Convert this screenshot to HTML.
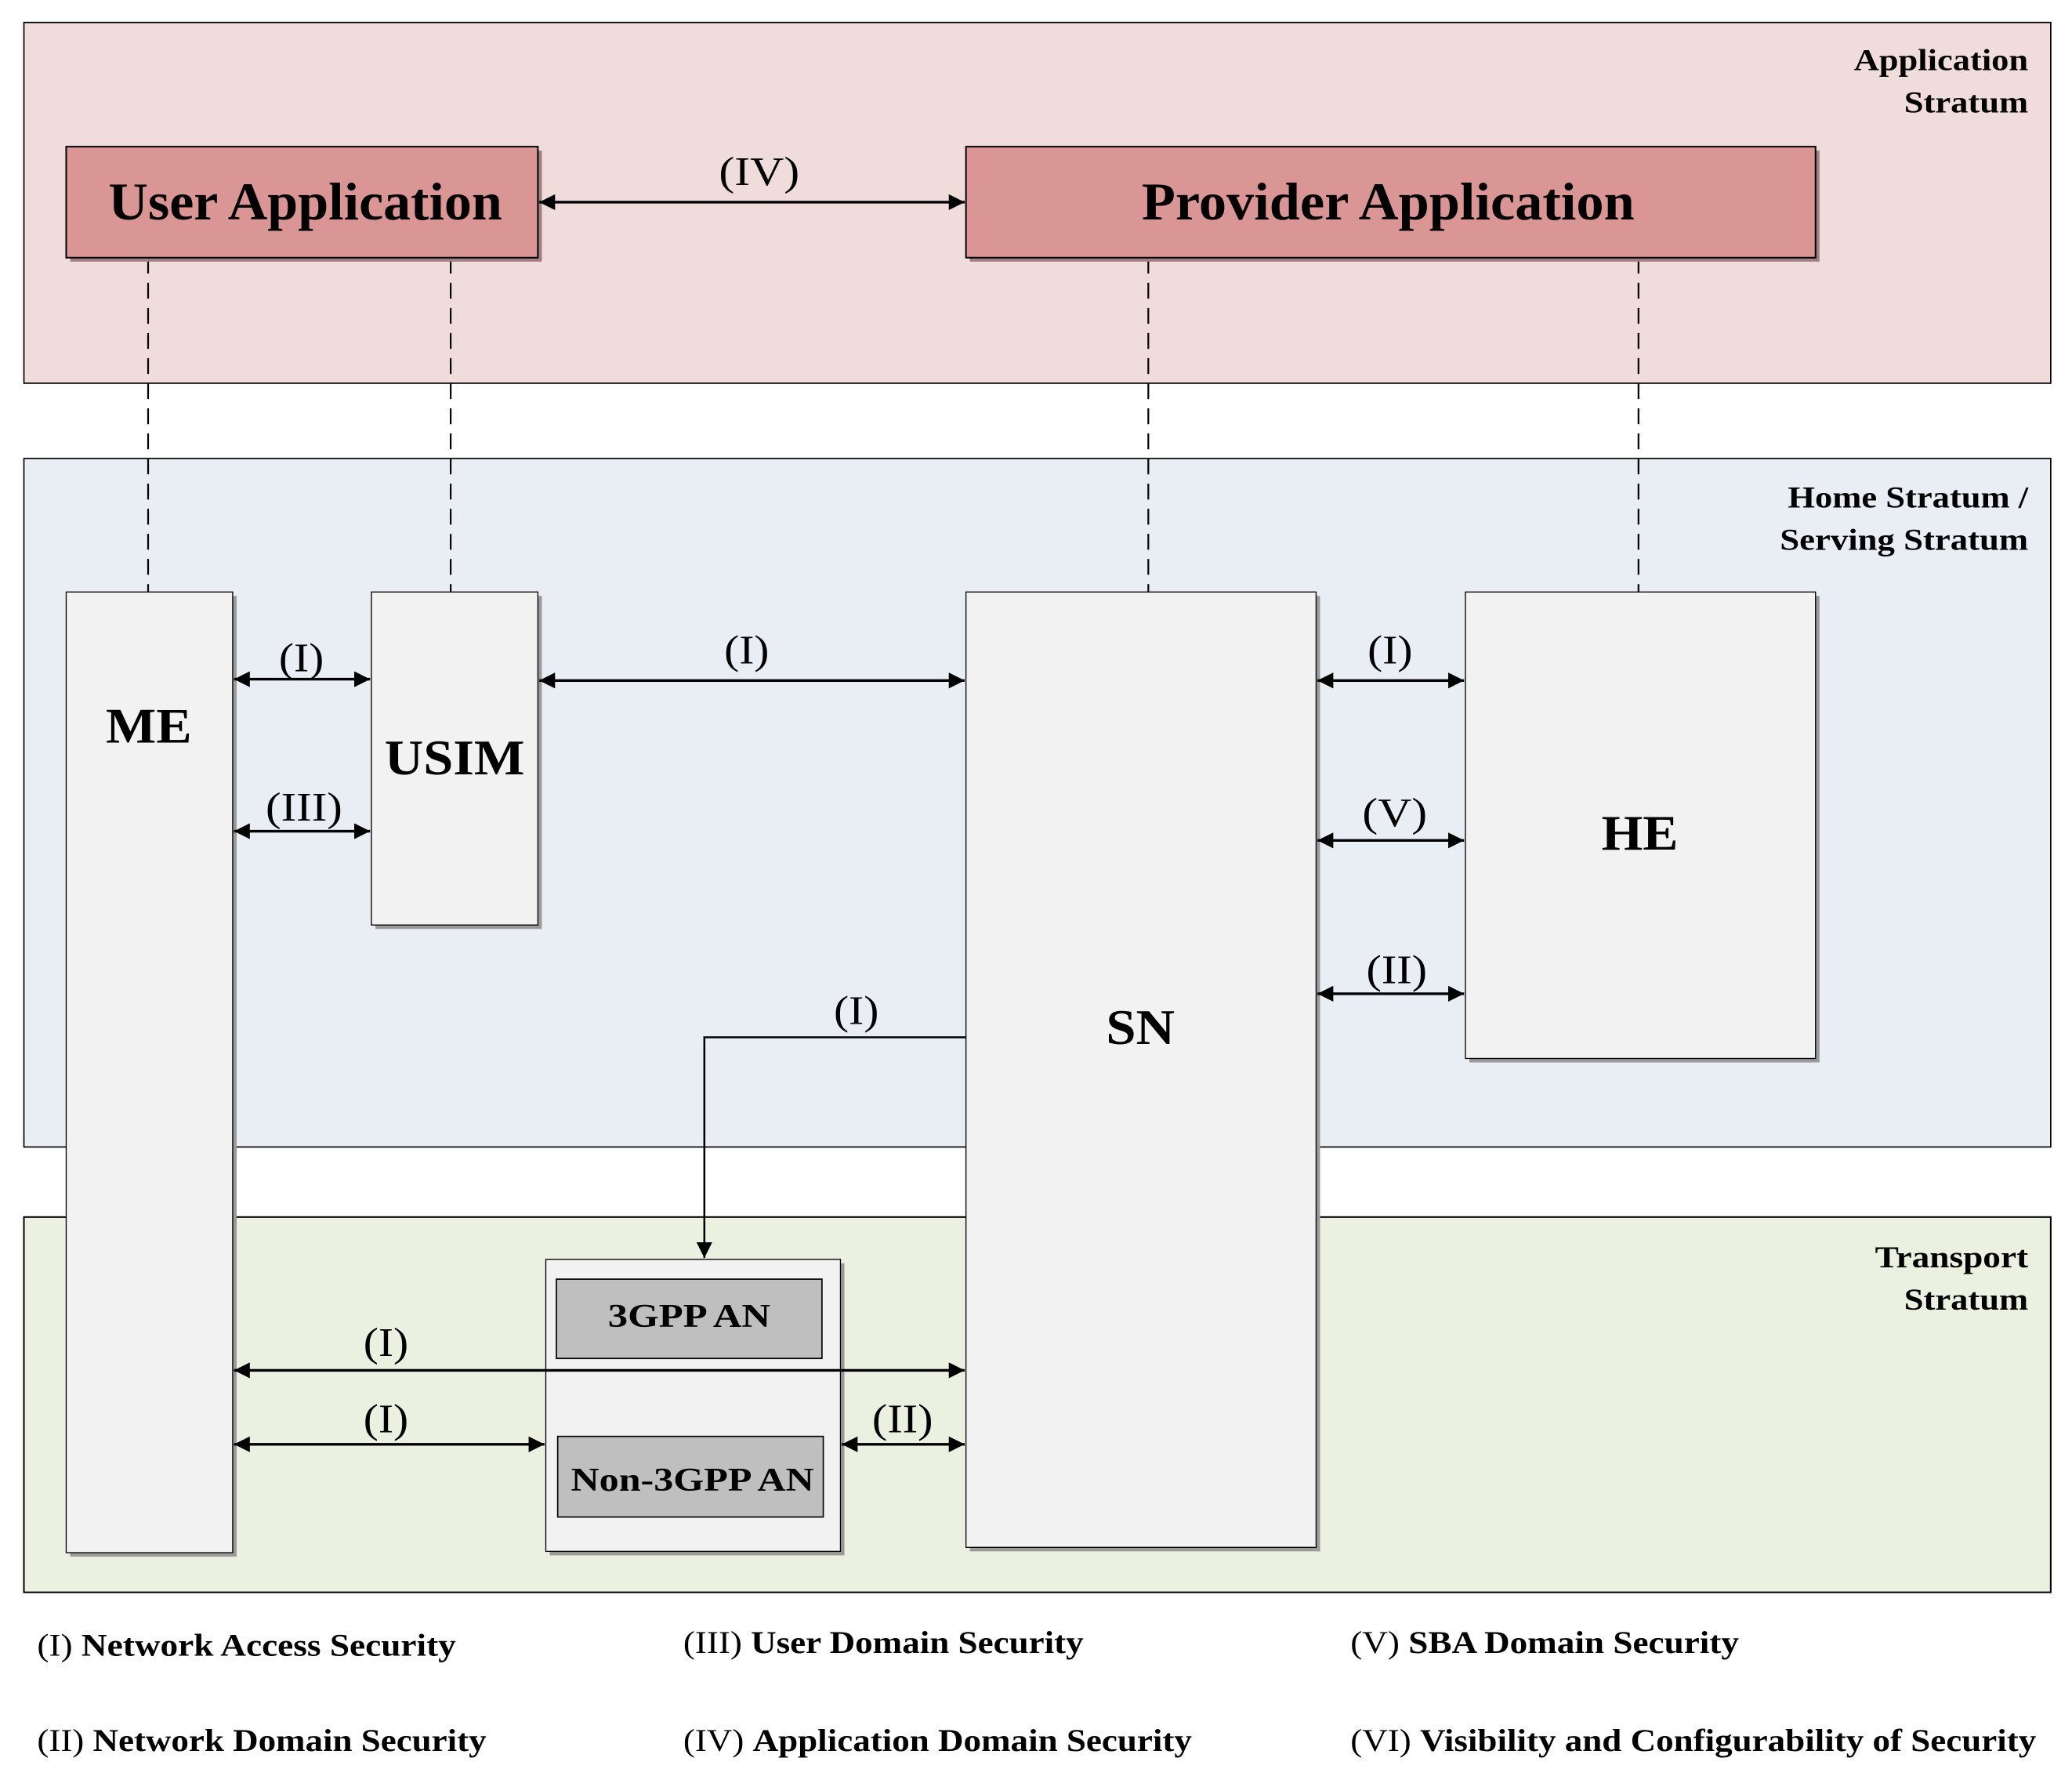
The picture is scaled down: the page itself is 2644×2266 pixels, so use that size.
<!DOCTYPE html>
<html><head><meta charset="utf-8"><style>
html,body{margin:0;padding:0;background:#fff;}
svg{display:block;}
text{font-family:"Liberation Serif","DejaVu Serif",serif;}
</style></head><body>
<svg width="2644" height="2266" viewBox="0 0 1568 1344" xmlns="http://www.w3.org/2000/svg">
<defs>
<marker id="a" viewBox="0 0 10 10" refX="10" refY="5" markerWidth="12" markerHeight="12" markerUnits="userSpaceOnUse" orient="auto-start-reverse">
<path d="M0,0 L10,5 L0,10 z" fill="#000"/></marker>
</defs>
<rect x="18" y="17" width="1534" height="273" fill="#f0dcdb" stroke="#000" stroke-width="1"/>
<rect x="18" y="347" width="1534" height="521" fill="#e9edf4" stroke="#000" stroke-width="1"/>
<rect x="18" y="921" width="1534" height="284" fill="#ebf0e0" stroke="#000" stroke-width="1.2"/>
<g font-weight="bold" font-size="23" lengthAdjust="spacingAndGlyphs">
<text x="1403" y="53" textLength="132" lengthAdjust="spacingAndGlyphs">Application</text>
<text x="1441" y="85" textLength="94" lengthAdjust="spacingAndGlyphs">Stratum</text>
<text x="1353" y="384" textLength="182" lengthAdjust="spacingAndGlyphs">Home Stratum /</text>
<text x="1347" y="416" textLength="188" lengthAdjust="spacingAndGlyphs">Serving Stratum</text>
<text x="1419" y="959" textLength="116" lengthAdjust="spacingAndGlyphs">Transport</text>
<text x="1441" y="991" textLength="94" lengthAdjust="spacingAndGlyphs">Stratum</text>
</g>
<g stroke="#000" stroke-width="1.3" stroke-dasharray="12,7">
<line x1="112" y1="195" x2="112" y2="448"/><line x1="341" y1="195" x2="341" y2="448"/>
<line x1="869" y1="195" x2="869" y2="448"/><line x1="1240" y1="195" x2="1240" y2="448"/>
</g>
<g fill="#9a9a9a">
<rect x="53" y="114" width="357" height="84" fill="#a08080"/>
<rect x="734" y="114" width="643" height="84" fill="#a08080"/>
<rect x="53" y="451" width="126" height="727"/>
<rect x="284" y="451" width="126" height="252"/>
<rect x="734" y="451" width="265" height="723"/>
<rect x="1112" y="451" width="265" height="353"/>
<rect x="416" y="956" width="223" height="221"/>
<rect x="424" y="971" width="201" height="60" fill="#7a7a7a"/>
<rect x="425" y="1090" width="201" height="61" fill="#7a7a7a"/>
</g>
<rect x="50" y="111" width="357" height="84" fill="#d99694" stroke="#000" stroke-width="1.2"/>
<rect x="731" y="111" width="643" height="84" fill="#d99694" stroke="#000" stroke-width="1.2"/>
<g fill="#f2f2f2" stroke="#000" stroke-width="0.8">
<rect x="50" y="448" width="126" height="727"/>
<rect x="281" y="448" width="126" height="252"/>
<rect x="731" y="448" width="265" height="723"/>
<rect x="1109" y="448" width="265" height="353"/>
<rect x="413" y="953" width="223" height="221"/>
</g>
<rect x="421" y="968" width="201" height="60" fill="#bfbfbf" stroke="#000" stroke-width="1"/>
<rect x="422" y="1087" width="201" height="61" fill="#bfbfbf" stroke="#000" stroke-width="1"/>
<g font-weight="bold">
<text x="82" y="166" font-size="40" textLength="298" lengthAdjust="spacingAndGlyphs">User Application</text>
<text x="864" y="166" font-size="40" textLength="373" lengthAdjust="spacingAndGlyphs">Provider Application</text>
<text x="80" y="562" font-size="38" textLength="65" lengthAdjust="spacingAndGlyphs">ME</text>
<text x="291" y="586" font-size="38" textLength="106" lengthAdjust="spacingAndGlyphs">USIM</text>
<text x="837" y="790" font-size="38" textLength="52" lengthAdjust="spacingAndGlyphs">SN</text>
<text x="1212" y="643" font-size="38" textLength="58" lengthAdjust="spacingAndGlyphs">HE</text>
<text x="460" y="1004" font-size="25" textLength="123" lengthAdjust="spacingAndGlyphs">3GPP AN</text>
<text x="432" y="1128" font-size="25" textLength="184" lengthAdjust="spacingAndGlyphs">Non-3GPP AN</text>
</g>
<g stroke="#000" stroke-width="2" marker-start="url(#a)" marker-end="url(#a)">
<line x1="408" y1="153" x2="730" y2="153"/>
<line x1="177" y1="514" x2="280" y2="514"/>
<line x1="177" y1="629" x2="280" y2="629"/>
<line x1="408" y1="515" x2="730" y2="515"/>
<line x1="997" y1="515" x2="1108" y2="515"/>
<line x1="997" y1="636" x2="1108" y2="636"/>
<line x1="997" y1="752" x2="1108" y2="752"/>
<line x1="177" y1="1037" x2="730" y2="1037"/>
<line x1="177" y1="1093" x2="412" y2="1093"/>
<line x1="637" y1="1093" x2="730" y2="1093"/>
</g>
<polyline points="731,785 533,785 533,952" fill="none" stroke="#000" stroke-width="1.5" marker-end="url(#a)"/>
<g font-size="31">
<text x="544" y="140" textLength="61" lengthAdjust="spacingAndGlyphs">(IV)</text>
<text x="211" y="508" textLength="34" lengthAdjust="spacingAndGlyphs">(I)</text>
<text x="201" y="621" textLength="58" lengthAdjust="spacingAndGlyphs">(III)</text>
<text x="548" y="502" textLength="34" lengthAdjust="spacingAndGlyphs">(I)</text>
<text x="1035" y="502" textLength="34" lengthAdjust="spacingAndGlyphs">(I)</text>
<text x="1031" y="625" textLength="49" lengthAdjust="spacingAndGlyphs">(V)</text>
<text x="1034" y="744" textLength="46" lengthAdjust="spacingAndGlyphs">(II)</text>
<text x="631" y="775" textLength="34" lengthAdjust="spacingAndGlyphs">(I)</text>
<text x="275" y="1026" textLength="34" lengthAdjust="spacingAndGlyphs">(I)</text>
<text x="275" y="1084" textLength="34" lengthAdjust="spacingAndGlyphs">(I)</text>
<text x="660" y="1084" textLength="46" lengthAdjust="spacingAndGlyphs">(II)</text>
</g>
<g font-size="24">
<text x="28" y="1253" textLength="317" lengthAdjust="spacingAndGlyphs">(I) <tspan font-weight="bold">Network Access Security</tspan></text>
<text x="28" y="1325" textLength="340" lengthAdjust="spacingAndGlyphs">(II) <tspan font-weight="bold">Network Domain Security</tspan></text>
<text x="517" y="1251" textLength="303" lengthAdjust="spacingAndGlyphs">(III) <tspan font-weight="bold">User Domain Security</tspan></text>
<text x="517" y="1325" textLength="385" lengthAdjust="spacingAndGlyphs">(IV) <tspan font-weight="bold">Application Domain Security</tspan></text>
<text x="1022" y="1251" textLength="294" lengthAdjust="spacingAndGlyphs">(V) <tspan font-weight="bold">SBA Domain Security</tspan></text>
<text x="1022" y="1325" textLength="519" lengthAdjust="spacingAndGlyphs">(VI) <tspan font-weight="bold">Visibility and Configurability of Security</tspan></text>
</g>
</svg>
</body></html>
